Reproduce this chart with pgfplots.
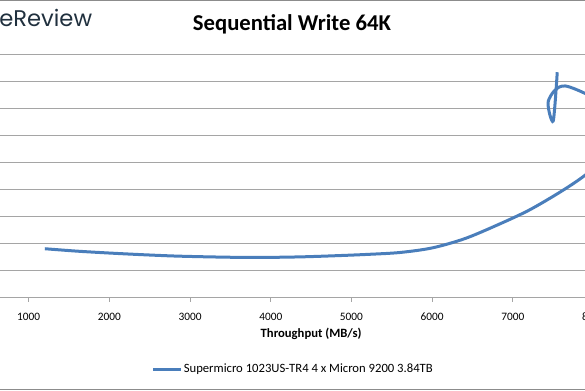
\documentclass[border=0pt]{standalone}
\usepackage{pgfplots}
\pgfplotsset{compat=1.18}
\usepackage{fontspec}
\setmainfont{Carlito}
\newfontfamily\logofont{Poppins}
\definecolor{serblue}{RGB}{74,126,187}
\definecolor{gridgray}{RGB}{165,165,165}
\definecolor{bordergray}{RGB}{140,140,140}
\definecolor{logocol}{RGB}{32,48,62}
\pgfplotstableread{
x y
1200 1.81
1600 1.72
2000 1.65
2400 1.59
2800 1.54
3200 1.51
3600 1.49
4000 1.49
4400 1.51
4800 1.55
5200 1.60
5600 1.67
6000 1.84
6400 2.18
6800 2.68
7200 3.24
7600 3.94
7900 4.55
8200 5.35
8400 6.30
8250 7.00
7650 7.85
7440 7.30
7500 6.55
7550 8.36
}\seqwrite
\begin{document}
\begin{tikzpicture}
\useasboundingbox (0pt,0pt) rectangle (438.75pt,292.5pt);
\clip (0pt,0pt) rectangle (438.75pt,292.5pt);
\draw[bordergray, line width=0.75pt] (0pt,292.2pt) -- (438.75pt,292.2pt);
\draw[bordergray, line width=0.75pt] (0pt,0.45pt) -- (438.75pt,0.45pt);
\node[anchor=base west, inner sep=0pt, font=\logofont\fontsize{17}{20}\selectfont, text=logocol] at (-0.75pt,272.5pt) {eReview};
\begin{axis}[
  at={(-39pt,69.375pt)}, anchor=south west,
  scale only axis, width=544.7pt, height=181.9pt,
  xmin=0, xmax=9000, ymin=0, ymax=9,
  xtick={1000,2000,...,8000},
  ytick={0,1,...,9}, yticklabels={},
  ymajorgrids, major grid style={draw=gridgray, line width=0.75pt},
  axis line style={draw=none},
  xtick pos=bottom, ytick pos=left,
  tick align=outside, major tick length=3pt,
  xtick style={draw=gridgray, line width=0.75pt},
  ytick style={draw=none},
  /pgf/number format/.cd, 1000 sep={}, assume math mode=true, /pgfplots/.cd,
  xticklabel style={font=\fontsize{8.5}{10}\selectfont, yshift=-5.25pt},
  title={Sequential Write 64K},
  title style={at={(axis description cs:0.4736,1.095)}, anchor=center, font=\bfseries\fontsize{17}{20}\selectfont},
  xlabel={Throughput (MB/s)},
  xlabel style={at={(axis description cs:0.5,-0.152)}, anchor=center, font=\bfseries\fontsize{9.5}{11}\selectfont},
  legend style={at={(axis description cs:0.475,-0.295)}, anchor=center, draw=none, fill=none,
    font=\fontsize{9.5}{11}\selectfont, nodes={inner sep=1pt}},
  legend image code/.code={\draw[serblue, line width=2.25pt] (0pt,0pt) -- (20.7pt,0pt);},
]
\addplot[serblue, line width=2.25pt, smooth, no marks] table[x=x,y=y] {\seqwrite};
\addlegendentry{Supermicro 1023US-TR4 4 x Micron 9200 3.84TB}
\end{axis}
\end{tikzpicture}
\end{document}
